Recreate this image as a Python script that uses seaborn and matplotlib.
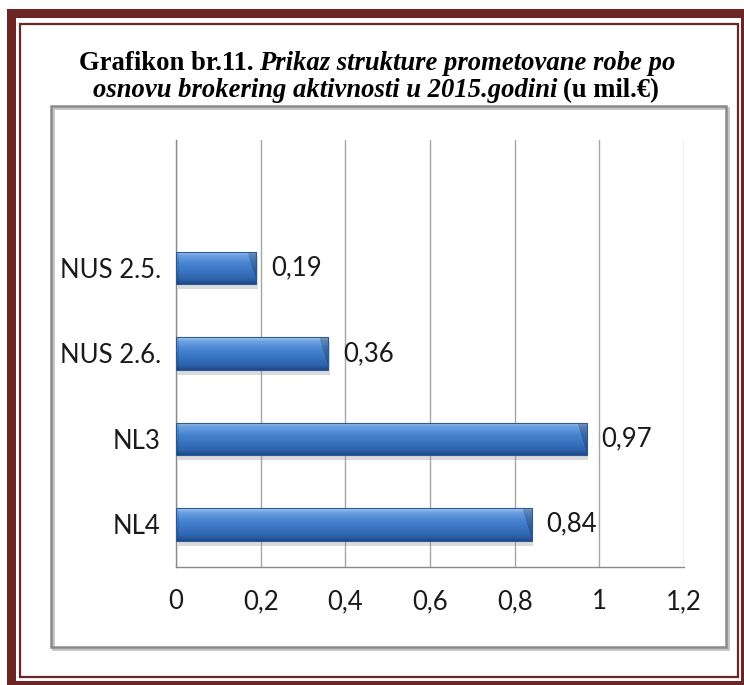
#!/usr/bin/env python3
"""Grafikon br.11 - struktura prometovane robe (brokering, 2015)."""

import numpy as np
import pandas as pd
import matplotlib.pyplot as plt
import seaborn as sns
from matplotlib.patches import Rectangle
from matplotlib.colors import to_rgb

# data
categories = ["NUS 2.5.", "NUS 2.6.", "NL3", "NL4"]
values = [0.19, 0.36, 0.97, 0.84]
value_labels = ["0,19", "0,36", "0,97", "0,84"]
x_ticks = [0, 0.2, 0.4, 0.6, 0.8, 1.0, 1.2]
x_tick_labels = ["0", "0,2", "0,4", "0,6", "0,8", "1", "1,2"]
title_line1 = [("Grafikon br.11.", "normal"), ("Prikaz strukture prometovane robe po", "italic")]
title_line2 = [("osnovu brokering aktivnosti u 2015.godini", "italic"), ("(u mil.€)", "normal")]

W, H = 744, 685
MAROON = "#6b2525"
LABEL_FONT = ["Lato", "DejaVu Sans"]
TITLE_FONT = ["Liberation Serif", "DejaVu Serif"]

sns.set_style("white")
plt.rcParams["font.family"] = LABEL_FONT

fig = plt.figure(figsize=(W / 100, H / 100), dpi=100)

# background axes in pixel coordinates
bg = fig.add_axes([0, 0, 1, 1], zorder=-1)
bg.set_xlim(0, W)
bg.set_ylim(H, 0)
bg.axis("off")

# double maroon frame (outer one partly cut at the right/bottom edge)
bg.add_patch(Rectangle((10.5, 13), 734, 671.5, fill=False, ec=MAROON, lw=6.5, clip_on=False))
bg.add_patch(Rectangle((20, 24), 718, 653, fill=False, ec=MAROON, lw=1.6))

# chart area box with a light shadow
bg.add_patch(Rectangle((53, 108), 675, 541, fill=False, ec="#c4c4c4", lw=2))
bg.add_patch(Rectangle((51, 106), 675, 541, fill=False, ec="#8a8a8a", lw=1.8))

# title built from bold / bold-italic pieces
fig.canvas.draw()
renderer = fig.canvas.get_renderer()
space = 6


def draw_line(pieces, y, cx):
    texts = []
    for txt, style in pieces:
        t = bg.text(0, y, txt, fontsize=19.2, fontweight="bold", fontstyle=style,
                    family=TITLE_FONT, va="baseline", ha="left", color="black")
        texts.append(t)
    widths = [t.get_window_extent(renderer).width for t in texts]
    total = sum(widths) + space * (len(texts) - 1)
    x = cx - total / 2
    for t, w in zip(texts, widths):
        t.set_x(x)
        x += w + space


draw_line(title_line1, 70, 377)
draw_line(title_line2, 97, 376)

# main axes
ax = fig.add_axes([176 / W, 1 - 567 / H, 508 / W, 427 / H])
df = pd.DataFrame({"category": categories, "value": values})
sns.barplot(data=df, x="value", y="category", orient="h", width=0.38,
            color="#3d7cc9", ax=ax, zorder=3)

ax.set_xlim(0, 1.2)
ax.set_ylim(3.5, -1.5)
ax.set_xticks(x_ticks)
ax.set_xticklabels(x_tick_labels, fontsize=18.5)
ax.set_yticks(range(len(categories)))
ax.set_yticklabels(categories, fontsize=18.5)
ax.set_yticks(np.arange(-1.5, 4.0, 1.0), minor=True)
ax.tick_params(axis="y", which="major", length=0, pad=11)
ax.tick_params(axis="y", which="minor", length=6, width=1, color="#8a8a8a", direction="out")
ax.tick_params(axis="x", length=7, width=1, color="#8a8a8a", direction="out", pad=9)
ax.set_xlabel("")
ax.set_ylabel("")
ax.grid(axis="x", color="#a6a6a6", lw=1, zorder=0)
ax.set_axisbelow(True)
for side in ["top", "right"]:
    ax.spines[side].set_visible(False)
for side in ["left", "bottom"]:
    ax.spines[side].set_color("#8a8a8a")
    ax.spines[side].set_linewidth(1)

# gradient fill and bevel on each bar
stops = [to_rgb(c) for c in ["#a9cbf0", "#6ea3e2", "#4a86d2", "#3a74c2", "#2e63ae", "#1f4a86"]]
pos = [0.0, 0.12, 0.35, 0.6, 0.85, 1.0]
rows = 60
grad = np.array([[np.interp(r / (rows - 1), pos, [s[k] for s in stops]) for k in range(3)]
                 for r in range(rows)])
px_per_unit = 508 / 1.2
for patch in list(ax.patches):
    bb = patch.get_bbox()
    x0, x1 = bb.x0, bb.x1
    y0, y1 = min(bb.y0, bb.y1), max(bb.y0, bb.y1)
    cols = max(int((x1 - x0) * px_per_unit), 10)
    img = np.repeat(grad[:, None, :], cols, axis=1)
    # diagonal bevel at the right end
    bevel = 10
    for r in range(rows):
        edge = cols - int(bevel * (1 - r / rows))
        img[r, edge:, :] *= 0.8
    img[:, :3, :] *= 0.9
    # shadow under the bar
    ax.add_patch(Rectangle((x0 + 0.004, y0 + 0.06), x1 - x0, y1 - y0,
                           color="#9a9a9a", alpha=0.35, lw=0, zorder=2))
    im = ax.imshow(img, extent=(x0, x1, y1, y0), aspect="auto", zorder=4,
                   interpolation="bilinear")
    im.set_clip_path(patch)
    patch.set_edgecolor("#2b5a96")
    patch.set_linewidth(0.8)
    patch.set_facecolor("none")
    patch.set_zorder(5)

ax.set_xlim(0, 1.2)
ax.set_ylim(3.5, -1.5)

for i, (v, lab) in enumerate(zip(values, value_labels)):
    ax.text(v + 0.034, i, lab, fontsize=18.5, va="center", ha="left", color="#1a1a1a")

for lab in ax.get_xticklabels() + ax.get_yticklabels():
    lab.set_color("#1a1a1a")

fig.savefig("out.png", dpi=100)
